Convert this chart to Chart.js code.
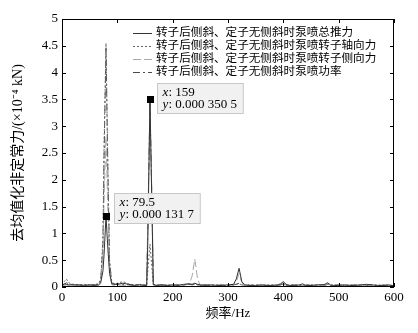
<!DOCTYPE html>
<html>
<head>
<meta charset="utf-8">
<script src="https://cdn.jsdelivr.net/npm/chart.js@4/dist/chart.umd.min.js"></script>
<style>
  html, body { margin: 0; padding: 0; background: #fff; }
  #wrap { width: 418px; height: 333px; }
</style>
</head>
<body>
<div id="wrap"><canvas id="c"></canvas></div>
<script>
// frequency (Hz)
const freq = [0, 4, 8, 12, 20, 30, 40, 50, 60, 66, 70, 74, 76, 79.5, 83, 86, 90, 96, 100, 110,
  120, 130, 140, 150, 153, 155, 159, 163, 165, 170, 180, 190, 200, 210, 220, 230, 235, 240, 245, 250,
  260, 270, 280, 290, 300, 310, 315, 320, 325, 330, 340, 350, 360, 370, 380, 390, 395, 400, 405, 410,
  420, 430, 435, 440, 450, 460, 470, 475, 480, 485, 490, 500, 510, 520, 530, 540, 550, 560, 570, 580,
  590, 600];

// de-meaned unsteady force, units of 1e-4 kN
const totalThrust = [0.02, 0.06, 0.05, 0.04, 0.04, 0.04, 0.03, 0.04, 0.03, 0.04, 0.08, 0.3, 0.6, 1.317, 0.7, 0.25, 0.06, 0.05, 0.05, 0.07,
  0.05, 0.03, 0.04, 0.03, 0.02, 0.8, 3.505, 1.2, 0.05, 0.03, 0.04, 0.03, 0.04, 0.03, 0.05, 0.06, 0.05, 0.07, 0.05, 0.04,
  0.03, 0.04, 0.03, 0.03, 0.04, 0.05, 0.15, 0.35, 0.1, 0.04, 0.03, 0.03, 0.04, 0.03, 0.03, 0.04, 0.06, 0.1, 0.05, 0.03,
  0.03, 0.04, 0.06, 0.03, 0.03, 0.04, 0.04, 0.05, 0.08, 0.04, 0.03, 0.03, 0.04, 0.03, 0.03, 0.04, 0.05, 0.04, 0.03, 0.03,
  0.04, 0.02];
const axialForce = [0.03, 0.1, 0.15, 0.08, 0.05, 0.04, 0.05, 0.04, 0.05, 0.06, 0.15, 0.9, 2.6, 4.55, 2.2, 0.5, 0.08, 0.06, 0.07, 0.1,
  0.06, 0.04, 0.05, 0.04, 0.04, 0.3, 0.8, 0.3, 0.05, 0.04, 0.03, 0.04, 0.03, 0.04, 0.04, 0.05, 0.04, 0.06, 0.04, 0.03,
  0.04, 0.03, 0.04, 0.03, 0.03, 0.04, 0.05, 0.06, 0.04, 0.03, 0.04, 0.03, 0.03, 0.04, 0.03, 0.03, 0.04, 0.05, 0.03, 0.04,
  0.03, 0.03, 0.04, 0.03, 0.04, 0.03, 0.04, 0.04, 0.05, 0.03, 0.04, 0.03, 0.03, 0.04, 0.03, 0.04, 0.03, 0.04, 0.03, 0.04,
  0.03, 0.03];
const sideForce = [0.01, 0.03, 0.04, 0.03, 0.02, 0.03, 0.02, 0.03, 0.02, 0.03, 0.06, 0.6, 1.6, 2.8, 1.4, 0.3, 0.04, 0.03, 0.04, 0.03,
  0.02, 0.03, 0.02, 0.03, 0.05, 1.2, 3.3, 1.5, 0.04, 0.03, 0.02, 0.03, 0.02, 0.03, 0.04, 0.06, 0.2, 0.52, 0.15, 0.03,
  0.02, 0.03, 0.02, 0.03, 0.02, 0.04, 0.1, 0.25, 0.08, 0.03, 0.02, 0.03, 0.02, 0.03, 0.02, 0.03, 0.05, 0.08, 0.04, 0.02,
  0.02, 0.03, 0.02, 0.03, 0.02, 0.03, 0.03, 0.04, 0.06, 0.03, 0.02, 0.03, 0.02, 0.03, 0.02, 0.03, 0.02, 0.03, 0.02, 0.03,
  0.02, 0.02];
const pumpPower = [0.02, 0.05, 0.08, 0.06, 0.04, 0.03, 0.04, 0.03, 0.04, 0.05, 0.12, 0.8, 2.4, 4.45, 2.1, 0.45, 0.07, 0.05, 0.06, 0.05,
  0.04, 0.03, 0.04, 0.03, 0.04, 1.1, 3.45, 1.3, 0.04, 0.03, 0.04, 0.03, 0.03, 0.04, 0.03, 0.05, 0.04, 0.05, 0.04, 0.03,
  0.04, 0.03, 0.03, 0.04, 0.03, 0.04, 0.05, 0.07, 0.04, 0.03, 0.03, 0.04, 0.03, 0.03, 0.04, 0.03, 0.04, 0.06, 0.03, 0.03,
  0.04, 0.03, 0.03, 0.04, 0.03, 0.03, 0.04, 0.03, 0.05, 0.03, 0.03, 0.04, 0.03, 0.03, 0.04, 0.03, 0.03, 0.04, 0.03, 0.03,
  0.03, 0.03];

const seriesNames = [
  '转子后侧斜、定子无侧斜时泵喷总推力',
  '转子后侧斜、定子无侧斜时泵喷转子轴向力',
  '转子后侧斜、定子无侧斜时泵喷转子侧向力',
  '转子后侧斜、定子无侧斜时泵喷功率'
];

// data tips
const tipX = [159, 79.5];
const tipY = [3.505, 1.317];
const tipYText = ['0.000 350 5', '0.000 131 7'];

const xTicks = [0, 100, 200, 300, 400, 500, 600];
const yTicks = [0, 0.5, 1, 1.5, 2, 2.5, 3, 3.5, 4, 4.5, 5];

const serif = '"Liberation Serif", "Times New Roman", serif';
const cjk = '"Liberation Serif", "Noto Sans CJK SC", serif';

const styles = [
  { color: '#333333', dash: [] },
  { color: '#666666', dash: [2, 2] },
  { color: '#a8a8a8', dash: [8, 3] },
  { color: '#4a4a4a', dash: [7, 3, 2, 3] }
];

function pts(ys) {
  return freq.map((f, i) => ({ x: f, y: ys[i] }));
}

const allSeries = [totalThrust, axialForce, sideForce, pumpPower];
const datasets = allSeries.map((s, i) => ({
  label: seriesNames[i],
  data: pts(s),
  borderColor: styles[i].color,
  borderDash: styles[i].dash,
  borderWidth: 1,
  pointRadius: 0,
  tension: 0,
  fill: false
}));

const framePlugin = {
  id: 'frame',
  afterDatasetsDraw(chart) {
    const { ctx, chartArea: a, scales: { x, y } } = chart;
    ctx.save();
    ctx.strokeStyle = '#000';
    ctx.lineWidth = 1;
    ctx.setLineDash([]);
    ctx.strokeRect(Math.round(a.left) + 0.5, Math.round(a.top) + 0.5, Math.round(a.width) - 1, Math.round(a.height) - 1);
    // inward ticks
    ctx.beginPath();
    xTicks.forEach(v => {
      const px = Math.round(x.getPixelForValue(v)) + 0.5;
      ctx.moveTo(px, a.bottom); ctx.lineTo(px, a.bottom - 4);
      ctx.moveTo(px, a.top); ctx.lineTo(px, a.top + 4);
    });
    yTicks.forEach(v => {
      const py = Math.round(y.getPixelForValue(v)) + 0.5;
      ctx.moveTo(a.left, py); ctx.lineTo(a.left + 4, py);
      ctx.moveTo(a.right, py); ctx.lineTo(a.right - 4, py);
    });
    ctx.stroke();

    // legend
    ctx.font = '11.6px ' + cjk;
    ctx.textBaseline = 'middle';
    ctx.fillStyle = '#000';
    chart.data.datasets.forEach((ds, i) => {
      const ly = a.top + 14 + i * 13;
      ctx.strokeStyle = ds.borderColor;
      ctx.setLineDash(ds.borderDash);
      ctx.beginPath();
      ctx.moveTo(133, ly + 0.5); ctx.lineTo(152, ly + 0.5);
      ctx.stroke();
      ctx.setLineDash([]);
      ctx.fillText(ds.label, 156, ly);
    });

    // data tips
    const offs = [[7, -16], [8, -23]];
    tipX.forEach((tx, i) => {
      const px = x.getPixelForValue(tx);
      const py = y.getPixelForValue(tipY[i]);
      ctx.fillStyle = '#000';
      ctx.fillRect(Math.round(px) - 3, Math.round(py) - 3, 7, 7);
      const bx = Math.round(px + offs[i][0]) + 0.5;
      const by = Math.round(py + offs[i][1]) + 0.5;
      ctx.font = '13px ' + serif;
      const w = 24 + ctx.measureText(tipYText[i]).width;
      ctx.fillStyle = 'rgba(240,240,240,0.95)';
      ctx.fillRect(bx, by, w, 30);
      ctx.strokeStyle = '#c8c8c8';
      ctx.strokeRect(bx, by, w, 30);
      ctx.fillStyle = '#000';
      ctx.font = 'italic 13px ' + serif;
      ctx.fillText('x', bx + 5, by + 9);
      ctx.fillText('y', bx + 5, by + 21);
      ctx.font = '13px ' + serif;
      ctx.fillText(': ' + tx, bx + 11, by + 9);
      ctx.fillText(': ' + tipYText[i], bx + 11, by + 21);
    });
    ctx.restore();
  }
};

new Chart(document.getElementById('c'), {
  type: 'line',
  data: { datasets: datasets },
  plugins: [framePlugin],
  options: {
    responsive: true,
    maintainAspectRatio: false,
    animation: false,
    layout: { padding: { left: 0, top: 19, right: 24, bottom: 0 } },
    plugins: { legend: { display: false }, tooltip: { enabled: false } },
    scales: {
      x: {
        type: 'linear',
        min: 0,
        max: 600,
        afterFit: s => { s.height = 46; },
        afterBuildTicks: s => { s.ticks = xTicks.map(v => ({ value: v })); },
        grid: { display: false, drawTicks: false },
        border: { display: false },
        ticks: { color: '#000', font: { family: serif, size: 13 }, padding: 3, maxRotation: 0,
                 callback: v => String(v) },
        title: { display: true, text: '频率/Hz', color: '#000', font: { family: cjk, size: 13 }, padding: { top: 0, bottom: 12 } }
      },
      y: {
        type: 'linear',
        min: 0,
        max: 5,
        afterFit: s => { s.width = 62; },
        afterBuildTicks: s => { s.ticks = yTicks.map(v => ({ value: v })); },
        grid: { display: false, drawTicks: false },
        border: { display: false },
        ticks: { color: '#000', font: { family: serif, size: 13 }, padding: 4,
                 callback: v => String(v) },
        title: { display: true, text: '去均值化非定常力/(×10⁻⁴ kN)', color: '#000', font: { family: cjk, size: 14 }, padding: { top: 10, bottom: 0 } }
      }
    }
  }
});
</script>
</body>
</html>
